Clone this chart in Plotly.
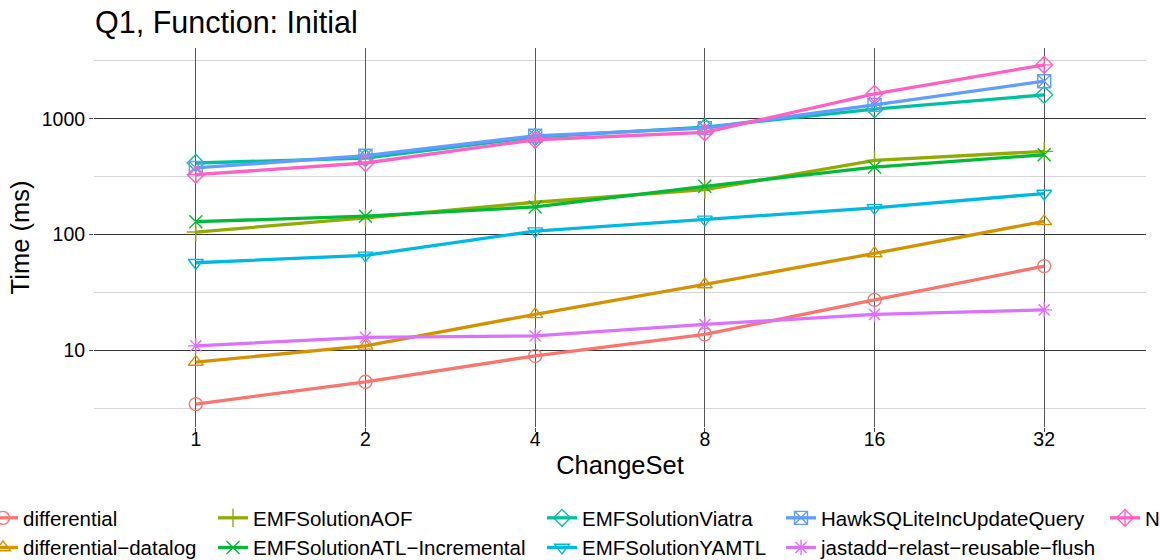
import plotly.graph_objects as go

change_sets = ["1", "2", "4", "8", "16", "32"]

differential = [3.42, 5.33, 8.93, 13.7, 27.2, 53.3]
differential_datalog = [7.9, 10.9, 20.4, 37.0, 68.6, 130]
emf_aof = [105, 139, 190, 244, 437, 523]
emf_atl_incremental = [129, 144, 173, 261, 383, 489]
emf_viatra = [415, 458, 695, 848, 1212, 1610]
emf_yamtl = [57, 66, 107, 135, 170, 226]
hawk_sqlite = [376, 480, 713, 831, 1320, 2113]
jastadd_relast = [10.9, 12.9, 13.3, 16.7, 20.4, 22.3]
nmf = [329, 415, 659, 763, 1643, 2925]

series_names = ["differential", "differential\u2212datalog", "EMFSolutionAOF",
                "EMFSolutionATL\u2212Incremental", "EMFSolutionViatra", "EMFSolutionYAMTL",
                "HawkSQLiteIncUpdateQuery", "jastadd\u2212relast\u2212reusable\u2212flush", "NMF"]
series_values = [differential, differential_datalog, emf_aof, emf_atl_incremental,
                 emf_viatra, emf_yamtl, hawk_sqlite, jastadd_relast, nmf]
colors = ["#F8766D", "#D39200", "#93AA00", "#00BA38", "#00C19F", "#00B9E3",
          "#619CFF", "#DB72FB", "#FF61C3"]
symbols = ["circle-open", "triangle-up-open", "cross-thin-open", "x-thin-open",
           "diamond-open", "triangle-down-open", "square-x-open", "asterisk-open",
           "diamond-cross-open"]
legend_ids = ["legend", "legend", "legend2", "legend2", "legend3", "legend3",
              "legend4", "legend4", "legend5"]

FONT = "Liberation Sans, Arial, sans-serif"
W, H = 1160, 560
ML, MR, MT, MB = 94, 14, 48, 133
PW = W - ML - MR
PH = H - MT - MB

fig = go.Figure()
for name, vals, col, sym, lg in zip(series_names, series_values, colors, symbols, legend_ids):
    fig.add_trace(go.Scatter(
        x=change_sets, y=vals, name=name, mode="lines+markers",
        line=dict(color=col, width=3.3),
        marker=dict(symbol=sym, size=13, color=col, line=dict(color=col, width=1.4)),
        legend=lg,
    ))

def px_to_paper_x(px):
    return (px - ML) / PW

def px_to_paper_y(py):
    return (H - MB - py) / PH

legend_text_x = [23, 253, 582, 821, 1145]
legend_common = dict(orientation="v", xanchor="left", yanchor="top",
                     font=dict(family=FONT, size=20.5, color="#000000"),
                     bgcolor="rgba(0,0,0,0)", tracegroupgap=0)
layout_legends = {}
for i, tx in enumerate(legend_text_x):
    key = "legend" if i == 0 else f"legend{i+1}"
    layout_legends[key] = dict(x=px_to_paper_x(tx - 40), y=px_to_paper_y(498), **legend_common)

fig.update_layout(
    width=W, height=H,
    margin=dict(l=ML, r=MR, t=MT, b=MB, autoexpand=False),
    paper_bgcolor="white", plot_bgcolor="white",
    font=dict(family=FONT, color="#000000"),
    title=dict(text="Q1, Function: Initial", x=95 / W, xanchor="left", xref="container",
               y=1 - 22 / H, yanchor="middle", yref="container",
               font=dict(family=FONT, size=30.5, color="#000000")),
    showlegend=True,
    **layout_legends,
)

fig.update_xaxes(
    type="category", categoryorder="array", categoryarray=change_sets,
    range=[-0.6, 5.6], showgrid=True, gridcolor="#555555", gridwidth=1,
    zeroline=False, showline=False,
    ticks="outside", ticklen=4, tickcolor="#444444", tickwidth=1,
    ticklabelstandoff=-9,
    tickfont=dict(family=FONT, size=19.5, color="#000000"),
    title=dict(text="ChangeSet", font=dict(family=FONT, size=25.5, color="#000000"), standoff=6),
)

fig.update_yaxes(
    type="log", range=[0.336, 3.612],
    tickmode="array", tickvals=[10, 100, 1000], ticktext=["10", "100", "1000"],
    showgrid=True, gridcolor="#333333", gridwidth=1,
    minor=dict(tickmode="array", tickvals=[10 ** 0.5, 10 ** 1.5, 10 ** 2.5, 10 ** 3.5],
               showgrid=True, gridcolor="#d4d4d4", gridwidth=1, ticks=""),
    zeroline=False, showline=False,
    ticks="outside", ticklen=4, tickcolor="#444444", tickwidth=1,
    tickfont=dict(family=FONT, size=19.5, color="#000000"),
    title=dict(text="Time (ms)", font=dict(family=FONT, size=25.5, color="#000000"), standoff=4),
)

fig.write_html("out.html", config={"displayModeBar": False},
               post_script="document.body.style.margin='0';")
